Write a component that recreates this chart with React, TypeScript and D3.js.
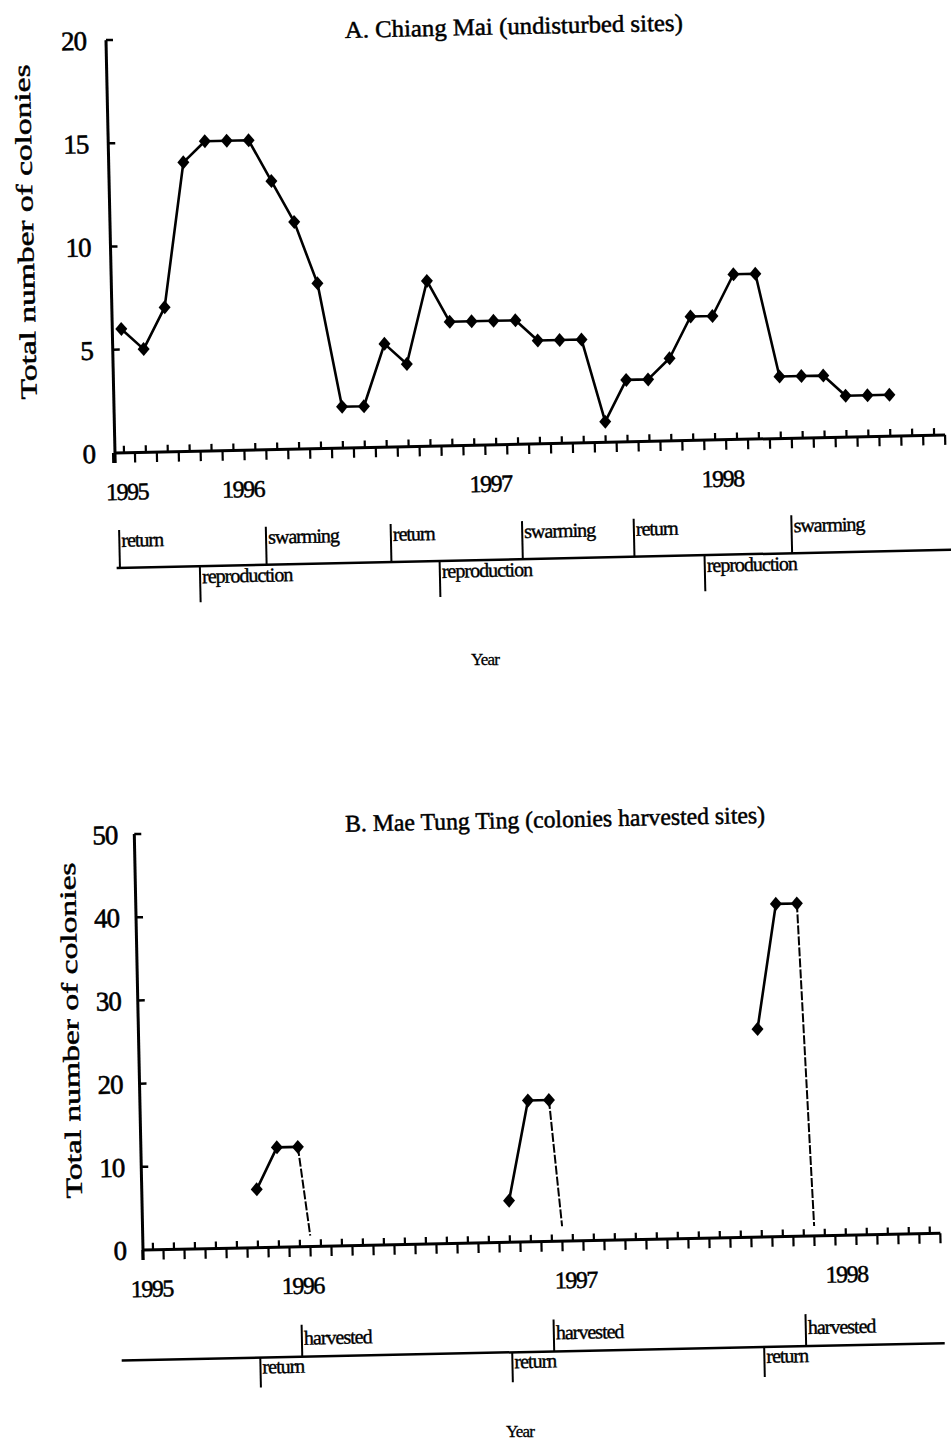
import React from 'react';
import * as d3 from 'd3';

// ---------- Panel A: Chiang Mai (undisturbed sites) ----------
const topTitle = 'A. Chiang Mai (undisturbed sites)';
const topCounts = [6, 5, 7, 14, 15, 15, 15, 13, 11, 8, 2, 2, 5, 4, 8, 6, 6, 6, 6, 5, 5, 5, 1, 3, 3, 4, 6, 6, 8, 8, 3, 3, 3, 2, 2, 2];
const topYTicks = [0, 5, 10, 15, 20];
const topYearLabels = ['1995', '1996', '1997', '1998'];
const topYearMonths = [0.1, 5.4, 16.7, 27.3];
const topEventLabels = ['return', 'reproduction', 'swarming', 'return', 'reproduction', 'swarming', 'return', 'reproduction', 'swarming'];
const topEventMonths = [-0.3, 3.35, 6.4, 12.1, 14.3, 18.1, 23.2, 26.4, 30.4];

// ---------- Panel B: Mae Tung Ting (colonies harvested sites) ----------
const bottomTitle = 'B. Mae Tung Ting (colonies harvested sites)';
const mttMonths = [5, 6, 7, 17, 18, 19, 29, 30, 31];
const mttCounts = [7, 12, 12, 5, 17, 17, 25, 40, 40];
const mttSeason = [0, 0, 0, 1, 1, 1, 2, 2, 2];
const harvestMonths = [7.5, 19.5, 31.5];
const harvestEndCounts = [1.3, 1.8, 1.2];
const bottomYTicks = [0, 10, 20, 30, 40, 50];
const bottomYearLabels = ['1995', '1996', '1997', '1998'];
const bottomYearMonths = [-0.1, 7.1, 20.1, 33];
const bottomEventLabels = ['return', 'harvested', 'return', 'harvested', 'return', 'harvested'];
const bottomEventMonths = [5, 7, 17, 19, 29, 31];

const tickMonthCount = 38;
const yTitle = 'Total number of colonies';
const xTitle = 'Year';

const FONT = '"Liberation Serif", "Times New Roman", serif';

type PanelProps = {
  ox: number; oy: number; angle: number;
  x: d3.ScaleLinear<number, number>;
  y: d3.ScaleLinear<number, number>;
  yTicks: number[];
  title: string; titleX: number; titleY: number; titleLen: number;
  yTitleX: number; yTitleY: number; yTitleLen: number;
  tickLabelGap: number;
  yearLabels: string[]; yearMonths: number[];
  eventLabels: string[]; eventMonths: number[];
  upEvents: string[];
  timelineY: number; timelineFrom: number; timelineTo: number;
  upLen: number; downLen: number; upLabelDy: number; downLabelDy: number;
  children?: React.ReactNode;
};

function diamond(cx: number, cy: number, w = 6, h = 7) {
  const p = d3.path();
  p.moveTo(cx, cy - h);
  p.lineTo(cx + w, cy);
  p.lineTo(cx, cy + h);
  p.lineTo(cx - w, cy);
  p.closePath();
  return p.toString();
}

function Panel(props: PanelProps) {
  const { x, y } = props;
  const upTicks = d3.range(0, tickMonthCount);
  const downTicks = d3.range(-1, tickMonthCount).map((i) => i + 0.5);
  const yMax = y.domain()[1];
  return (
    <g transform={`translate(${props.ox},${props.oy}) rotate(${props.angle})`} fontFamily={FONT} fill="#000">
      {/* title */}
      <text x={props.titleX} y={props.titleY} fontSize={24} textLength={props.titleLen} lengthAdjust="spacingAndGlyphs" stroke="#000" strokeWidth={0.5}>
        {props.title}
      </text>
      {/* y axis title */}
      <text transform={`translate(${props.yTitleX},${props.yTitleY}) rotate(-90)`} textAnchor="middle" fontSize={23} textLength={props.yTitleLen} lengthAdjust="spacingAndGlyphs" stroke="#000" strokeWidth={0.5}>
        {yTitle}
      </text>
      {/* y axis */}
      <line x1={0} y1={10} x2={0} y2={y(yMax)} stroke="#000" strokeWidth={3} />
      {props.yTicks.map((t) => (
        <g key={'yt' + t}>
          {t > 0 && <line x1={0} y1={y(t)} x2={7} y2={y(t)} stroke="#000" strokeWidth={2.5} />}
          <text x={-props.tickLabelGap} y={y(t)} dy="0.35em" textAnchor="end" fontSize={27} letterSpacing={-1} stroke="#000" strokeWidth={0.6}>
            {t}
          </text>
        </g>
      ))}
      {/* x axis */}
      <line x1={0} y1={0} x2={x(tickMonthCount - 0.5)} y2={0} stroke="#000" strokeWidth={3} />
      {upTicks.map((i) => (
        <line key={'u' + i} x1={x(i)} y1={0} x2={x(i)} y2={-7} stroke="#000" strokeWidth={2.2} />
      ))}
      {downTicks.map((i) => (
        <line key={'d' + i} x1={x(i)} y1={0} x2={x(i)} y2={10} stroke="#000" strokeWidth={2.2} />
      ))}
      {props.yearLabels.map((lab, k) => (
        <text key={'yr' + lab} x={x(props.yearMonths[k])} y={47} textAnchor="middle" fontSize={24} letterSpacing={-1.5} stroke="#000" strokeWidth={0.5}>
          {lab}
        </text>
      ))}
      {props.children}
      {/* timeline of events */}
      <line x1={x(props.timelineFrom)} y1={props.timelineY} x2={x(props.timelineTo)} y2={props.timelineY} stroke="#000" strokeWidth={2.5} />
      {props.eventLabels.map((lab, k) => {
        const ex = x(props.eventMonths[k]);
        const up = props.upEvents.includes(lab);
        const ty = props.timelineY;
        return (
          <g key={'ev' + k}>
            <line x1={ex} y1={ty} x2={ex} y2={up ? ty - props.upLen : ty + props.downLen} stroke="#000" strokeWidth={2} />
            <text x={ex + 2} y={up ? ty + props.upLabelDy : ty + props.downLabelDy} fontSize={20} letterSpacing={-1} stroke="#000" strokeWidth={0.4}>
              {lab}
            </text>
          </g>
        );
      })}
    </g>
  );
}

export default function App() {
  // Panel A scales
  const xA = d3.scaleLinear().domain([0, 37]).range([9, 9 + 37 * 21.9]);
  const yA = d3.scaleLinear().domain([0, 20]).range([0, -413]);
  const lineA = d3.line<number>().x((_, i) => xA(i)).y((d) => yA(d));

  // Panel B scales
  const xB = d3.scaleLinear().domain([0, 37]).range([10, 787]);
  const yB = d3.scaleLinear().domain([0, 50]).range([0, -416]);
  const seasons = d3.groups(d3.range(mttMonths.length), (i) => mttSeason[i]);
  const lineB = d3.line<number>().x((i) => xB(mttMonths[i])).y((i) => yB(mttCounts[i]));

  return (
    <svg width={951} height={1446} style={{ position: 'absolute', left: 0, top: 0, background: '#fff' }}>
      <rect x={0} y={0} width={951} height={1446} fill="#fff" />
      <Panel
        ox={115} oy={453} angle={-1.25} x={xA} y={yA} yTicks={topYTicks}
        title={topTitle} titleX={239} titleY={-410} titleLen={338}
        yTitleX={-77} yTitleY={-223} yTitleLen={335} tickLabelGap={20}
        yearLabels={topYearLabels} yearMonths={topYearMonths}
        eventLabels={topEventLabels} eventMonths={topEventMonths} upEvents={['return', 'swarming']}
        timelineY={115} timelineFrom={-0.45} timelineTo={37.9}
        upLen={38} downLen={36} upLabelDy={-21} downLabelDy={17}
      >
        <path d={lineA(topCounts) || ''} fill="none" stroke="#000" strokeWidth={2.6} strokeLinejoin="round" />
        {topCounts.map((v, i) => (
          <path key={'pa' + i} d={diamond(xA(i), yA(v))} fill="#000" />
        ))}
      </Panel>
      <Panel
        ox={143} oy={1250} angle={-1.2} x={xB} y={yB} yTicks={bottomYTicks}
        title={bottomTitle} titleX={211} titleY={-414} titleLen={420}
        yTitleX={-60} yTitleY={-221} yTitleLen={336} tickLabelGap={17}
        yearLabels={bottomYearLabels} yearMonths={bottomYearMonths}
        eventLabels={bottomEventLabels} eventMonths={bottomEventMonths} upEvents={['harvested']}
        timelineY={110} timelineFrom={-1.6} timelineTo={37.6}
        upLen={32} downLen={30} upLabelDy={-12} downLabelDy={16}
      >
        {seasons.map(([s, idx]) => {
          const last = idx[idx.length - 1];
          return (
            <g key={'s' + s}>
              <path d={lineB(idx) || ''} fill="none" stroke="#000" strokeWidth={2.6} strokeLinejoin="round" />
              <line
                x1={xB(mttMonths[last])} y1={yB(mttCounts[last])}
                x2={xB(harvestMonths[s])} y2={yB(harvestEndCounts[s])}
                stroke="#000" strokeWidth={2} strokeDasharray="9,2"
              />
              {idx.map((i) => (
                <path key={'pb' + i} d={diamond(xB(mttMonths[i]), yB(mttCounts[i]))} fill="#000" />
              ))}
            </g>
          );
        })}
      </Panel>
      <text x={485} y={665} textAnchor="middle" fontFamily={FONT} fontSize={17} letterSpacing={-0.8} stroke="#000" strokeWidth={0.3}>{xTitle}</text>
      <text x={520} y={1437} textAnchor="middle" fontFamily={FONT} fontSize={17} letterSpacing={-0.8} stroke="#000" strokeWidth={0.3}>{xTitle}</text>
    </svg>
  );
}
